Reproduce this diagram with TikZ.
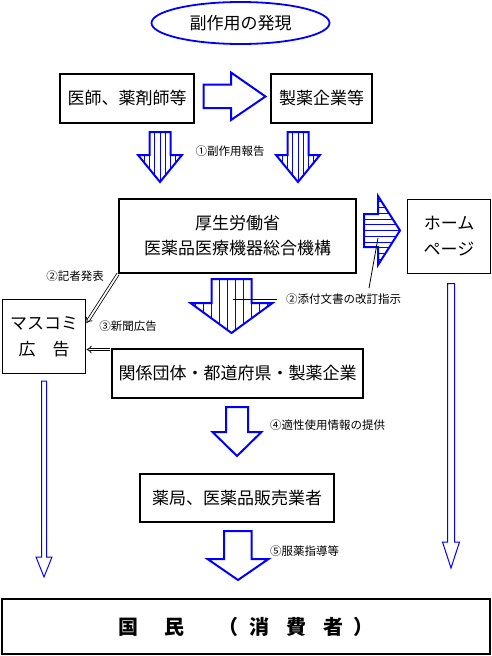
\documentclass[tikz,border=0pt]{standalone}
\usepackage{fontspec}
\setmainfont{Noto Sans CJK JP}
\usetikzlibrary{arrows.meta,shapes.geometric}
\definecolor{flowblue}{RGB}{0,0,255}

\begin{document}
\begin{tikzpicture}[x=1pt,y=-1pt,
    bigbox/.style={draw, line width=2pt, minimum height=49pt, inner sep=0pt,
        align=center, font=\fontsize{17}{25}\selectfont},
    thinbox/.style={draw, line width=1pt, minimum width=83pt, minimum height=74pt,
        inner sep=0pt, align=center, font=\fontsize{17}{26}\selectfont},
    steplabel/.style={inner sep=1pt, font=\fontsize{11.5}{13}\selectfont},
    blockarrow/.style={draw=flowblue, line width=2pt, line join=miter, fill=none},
    stripe/.style={draw=flowblue, line width=0.8pt},
    longarrow/.style={draw=flowblue, line width=1pt, fill=white},
    leader/.style={draw=black, line width=0.8pt},
    dblarrow/.style={draw=black, double, double distance=1.8pt, line width=0.8pt,
        -{Implies[length=5pt, width=10pt]}}]
    \useasboundingbox (0,0) rectangle (492,656);

    % Discovery
    \node[draw=flowblue, line width=1.8pt, ellipse, minimum width=178pt, minimum height=42pt,
        inner sep=0pt, font=\fontsize{17}{20}\selectfont] (hassei) at (240.5,23) {副作用の発現};

    % Boxes
    \node[bigbox, minimum width=134pt] (ishi) at (127,98.5) {医師、薬剤師等};
    \node[bigbox, minimum width=101pt] (seiyaku) at (321.5,98.5) {製薬企業等};
    \node[bigbox, minimum width=237pt, minimum height=74pt] (kousei) at (237.5,236) {厚生労働省\\医薬品医療機器総合機構};
    \node[thinbox] (home) at (449,236.5) {ホーム\\ページ};
    \node[thinbox] (masukomi) at (44,336.5) {マスコミ\\広　告};
    \node[bigbox, minimum width=251pt] (kankei) at (237.5,373.5) {関係団体・都道府県・製薬企業};
    \node[bigbox, minimum width=194pt, minimum height=48pt] (yakkyoku) at (237,498) {薬局、医薬品販売業者};
    \node[bigbox, minimum width=488pt, minimum height=55.5pt, font=\fontsize{20}{24}\selectfont\bfseries]
        (kokumin) at (246,626.7) {国\hspace{26pt}民\hspace{34pt}（\hspace{11pt}消\hspace{17pt}費\hspace{17pt}者\hspace{10pt}）};

    % Arrow from doctors to companies
    \draw[blockarrow] (203.5,84.5) -- (231,84.5) -- (231,72.5) -- (265.5,96.5) -- (231,120)
        -- (231,108) -- (203.5,108) -- cycle;

    % Report arrows
    \foreach \cx in {160,298} {
        \begin{scope}
            \clip (\cx-10.5,132) -- (\cx+10.5,132) -- (\cx+10.5,155) -- (\cx+22,155) -- (\cx,182)
                -- (\cx-22,155) -- (\cx-10.5,155) -- cycle;
            \foreach \k in {-3,...,3} {
                \draw[stripe] (\cx+\k*5.25,132) -- ++(0,50);
            }
        \end{scope}
        \draw[blockarrow] (\cx-10.5,132) -- (\cx+10.5,132) -- (\cx+10.5,155) -- (\cx+22,155) -- (\cx,182)
            -- (\cx-22,155) -- (\cx-10.5,155) -- cycle;
    }
    \node[steplabel] (houkoku) at (230,151) {①副作用報告};

    % Instruction arrow down
    \begin{scope}
        \clip (211.5,279) -- (251.5,279) -- (251.5,303) -- (272.5,303) -- (231.5,333)
            -- (190.5,303) -- (211.5,303) -- cycle;
        \foreach \o in {-36,-28,...,36} {
            \draw[stripe] (231.5+\o,279) -- ++(0,55);
        }
    \end{scope}
    \draw[blockarrow] (211.5,279) -- (251.5,279) -- (251.5,303) -- (272.5,303) -- (231.5,333)
        -- (190.5,303) -- (211.5,303) -- cycle;

    % Instruction arrow to home page
    \begin{scope}
        \clip (364,214) -- (378,214) -- (378,196) -- (400,230.5) -- (378,265) -- (378,247)
            -- (364,247) -- cycle;
        \foreach \k in {-6,...,6} {
            \draw[stripe] (364,230.5+\k*5.75) -- ++(37,0);
        }
    \end{scope}
    \draw[blockarrow] (364,214) -- (378,214) -- (378,196) -- (400,230.5) -- (378,265) -- (378,247)
        -- (364,247) -- cycle;

    % Instruction label
    \node[steplabel, anchor=west, inner xsep=9pt] (tenpu) at (277,299) {②添付文書の改訂指示};
    \coordinate (tenpuA) at (233,299);
    \coordinate (tenpuB) at (378,238);
    \coordinate (tenpuC) at (369,288);
    \draw[leader] (tenpuA) -- (tenpu.west);
    \draw[leader] (tenpuB) -- (tenpuC);

    % Press
    \node[steplabel] (kisha) at (75,276) {②記者発表};
    \node[steplabel] (shinbun) at (128,326) {③新聞広告};
    \coordinate (kishaEnd) at (86.5,323);
    \coordinate (shinbunStart) at (110,349.5);
    \coordinate (shinbunEnd) at (86.5,349.5);
    \draw[dblarrow] (kousei.south west) -- (kishaEnd);
    \draw[dblarrow] (shinbunStart) -- (shinbunEnd);

    % Information arrows
    \draw[blockarrow, fill=white] (226,407) -- (248,407) -- (248,432) -- (261.5,432) -- (237,456)
        -- (212.5,432) -- (226,432) -- cycle;
    \node[steplabel, anchor=west] (tekisei) at (269,425) {④適性使用情報の提供};
    \draw[blockarrow, fill=white] (224,531) -- (251.5,531) -- (251.5,559) -- (268.5,559) -- (238,580)
        -- (207.5,559) -- (224,559) -- cycle;
    \node[steplabel, anchor=west] (fukuyaku) at (269,551) {⑤服薬指導等};

    % Long arrows to the public
    \draw[longarrow] (41.5,381) -- (46.5,381) -- (46.5,557) -- (52,557) -- (44,577) -- (36,557)
        -- (41.5,557) -- cycle;
    \draw[longarrow] (447.5,283.5) -- (454.5,283.5) -- (454.5,542) -- (459.5,542) -- (451,568)
        -- (442.5,542) -- (447.5,542) -- cycle;
\end{tikzpicture}
\end{document}
